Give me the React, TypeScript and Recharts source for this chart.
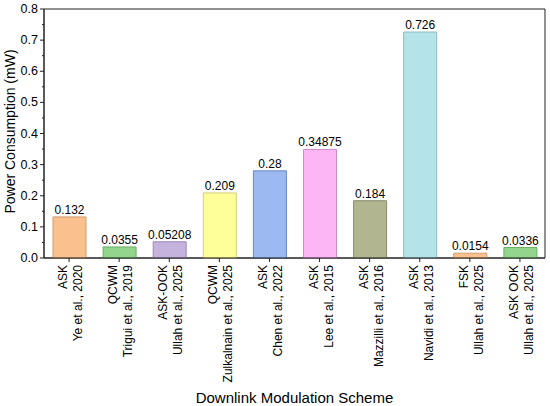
import { Bar, BarChart, Cell, LabelList, ReferenceArea, XAxis, YAxis } from "recharts";

const schemes = ["ASK", "QCWM", "ASK-OOK", "QCWM", "ASK", "ASK", "ASK", "ASK", "FSK", "ASK OOK"];
const refs = [
  "Ye et al., 2020",
  "Trigui et al., 2019",
  "Ullah et al., 2025",
  "Zulkalnain et al., 2025",
  "Chen et al., 2022",
  "Lee et al., 2015",
  "Mazzilli et al., 2016",
  "Navidi et al., 2013",
  "Ullah et al., 2025",
  "Ullah et al., 2025",
];
const power = [0.132, 0.0355, 0.05208, 0.209, 0.28, 0.34875, 0.184, 0.726, 0.0154, 0.0336];
const powerLabels = ["0.132", "0.0355", "0.05208", "0.209", "0.28", "0.34875", "0.184", "0.726", "0.0154", "0.0336"];
const fills = ["#FAC18F", "#93D58D", "#C5B3DE", "#FFFF99", "#9DB9F2", "#FCB5F5", "#B1B590", "#B4E3EA", "#FAC18F", "#93D58D"];
const strokes = ["#D49A6A", "#6CAD67", "#9A88B5", "#CFCF78", "#6585C4", "#CF8AC8", "#878A6B", "#8CBAC1", "#D49A6A", "#6CAD67"];
const yTicks = [0, 0.05, 0.1, 0.15, 0.2, 0.25, 0.3, 0.35, 0.4, 0.45, 0.5, 0.55, 0.6, 0.65, 0.7, 0.75, 0.8];

const data = power.map((v, i) => ({ key: `${i}`, value: v, label: powerLabels[i] }));

const FONT = "'Liberation Sans', Arial, sans-serif";
const AXIS = "#222";

function XTick(props: any) {
  const { x, y, payload } = props;
  const i = payload.index;
  const ty = y + 7;
  return (
    <g>
      <line x1={x} y1={y} x2={x} y2={y + 4} stroke={AXIS} />
      <text
        x={x - 6}
        y={ty}
        transform={`rotate(-90, ${x - 6}, ${ty})`}
        textAnchor="end"
        dominantBaseline="central"
        fontSize={12}
        fontFamily={FONT}
        fill="#000"
      >
        {schemes[i]}
      </text>
      <text
        x={x + 9}
        y={ty}
        transform={`rotate(-90, ${x + 9}, ${ty})`}
        textAnchor="end"
        dominantBaseline="central"
        fontSize={12}
        fontFamily={FONT}
        fill="#000"
      >
        {refs[i]}
      </text>
    </g>
  );
}

function YTick(props: any) {
  const { x, y, payload, index } = props;
  const major = index % 2 === 0;
  return (
    <g>
      <line x1={x - (major ? 4 : 2)} y1={y} x2={x} y2={y} stroke={AXIS} />
      {major && (
        <text x={x - 6} y={y} textAnchor="end" dominantBaseline="central" fontSize={12.5} fontFamily={FONT} fill="#000">
          {payload.value.toFixed(1)}
        </text>
      )}
    </g>
  );
}

export default function App() {
  return (
    <div style={{ position: "absolute", left: 0, top: 0, width: 550, height: 406, background: "#fff" }}>
      <BarChart width={550} height={406} data={data} margin={{ top: 9, right: 5, left: 0, bottom: 0 }}>
        <XAxis
          dataKey="key"
          height={148}
          interval={0}
          tickSize={0}
          tickMargin={0}
          tickLine={false}
          tick={<XTick />}
          axisLine={{ stroke: AXIS }}
          label={{
            content: (p: any) => {
              const vb = p.viewBox;
              return (
                <text
                  x={vb.x + vb.width / 2}
                  y={vb.y + 139}
                  textAnchor="middle"
                  dominantBaseline="central"
                  fontSize={15}
                  fontFamily={FONT}
                  fill="#000"
                >
                  Downlink Modulation Scheme
                </text>
              );
            },
          }}
        />
        <YAxis
          domain={[0, 0.8]}
          ticks={yTicks}
          interval={0}
          width={44}
          tickSize={0}
          tickMargin={0}
          tickLine={false}
          tick={<YTick />}
          axisLine={{ stroke: AXIS }}
          label={{
            content: (p: any) => {
              const vb = p.viewBox;
              const cx = vb.x + 10;
              const cy = vb.y + vb.height / 2 - 2;
              return (
                <text
                  x={cx}
                  y={cy}
                  transform={`rotate(-90, ${cx}, ${cy})`}
                  textAnchor="middle"
                  dominantBaseline="central"
                  fontSize={14}
                  fontFamily={FONT}
                  fill="#000"
                >
                  Power Consumption (mW)
                </text>
              );
            },
          }}
        />
        <ReferenceArea y1={0} y2={0.8} fill="none" stroke={AXIS} strokeWidth={1} ifOverflow="visible" />
        <Bar dataKey="value" barSize={33} isAnimationActive={false}>
          {data.map((_, i) => (
            <Cell key={i} fill={fills[i]} stroke={strokes[i]} strokeWidth={1} />
          ))}
          <LabelList dataKey="label" position="top" offset={3} fontSize={12} fontFamily={FONT} fill="#000" />
        </Bar>
      </BarChart>
    </div>
  );
}
